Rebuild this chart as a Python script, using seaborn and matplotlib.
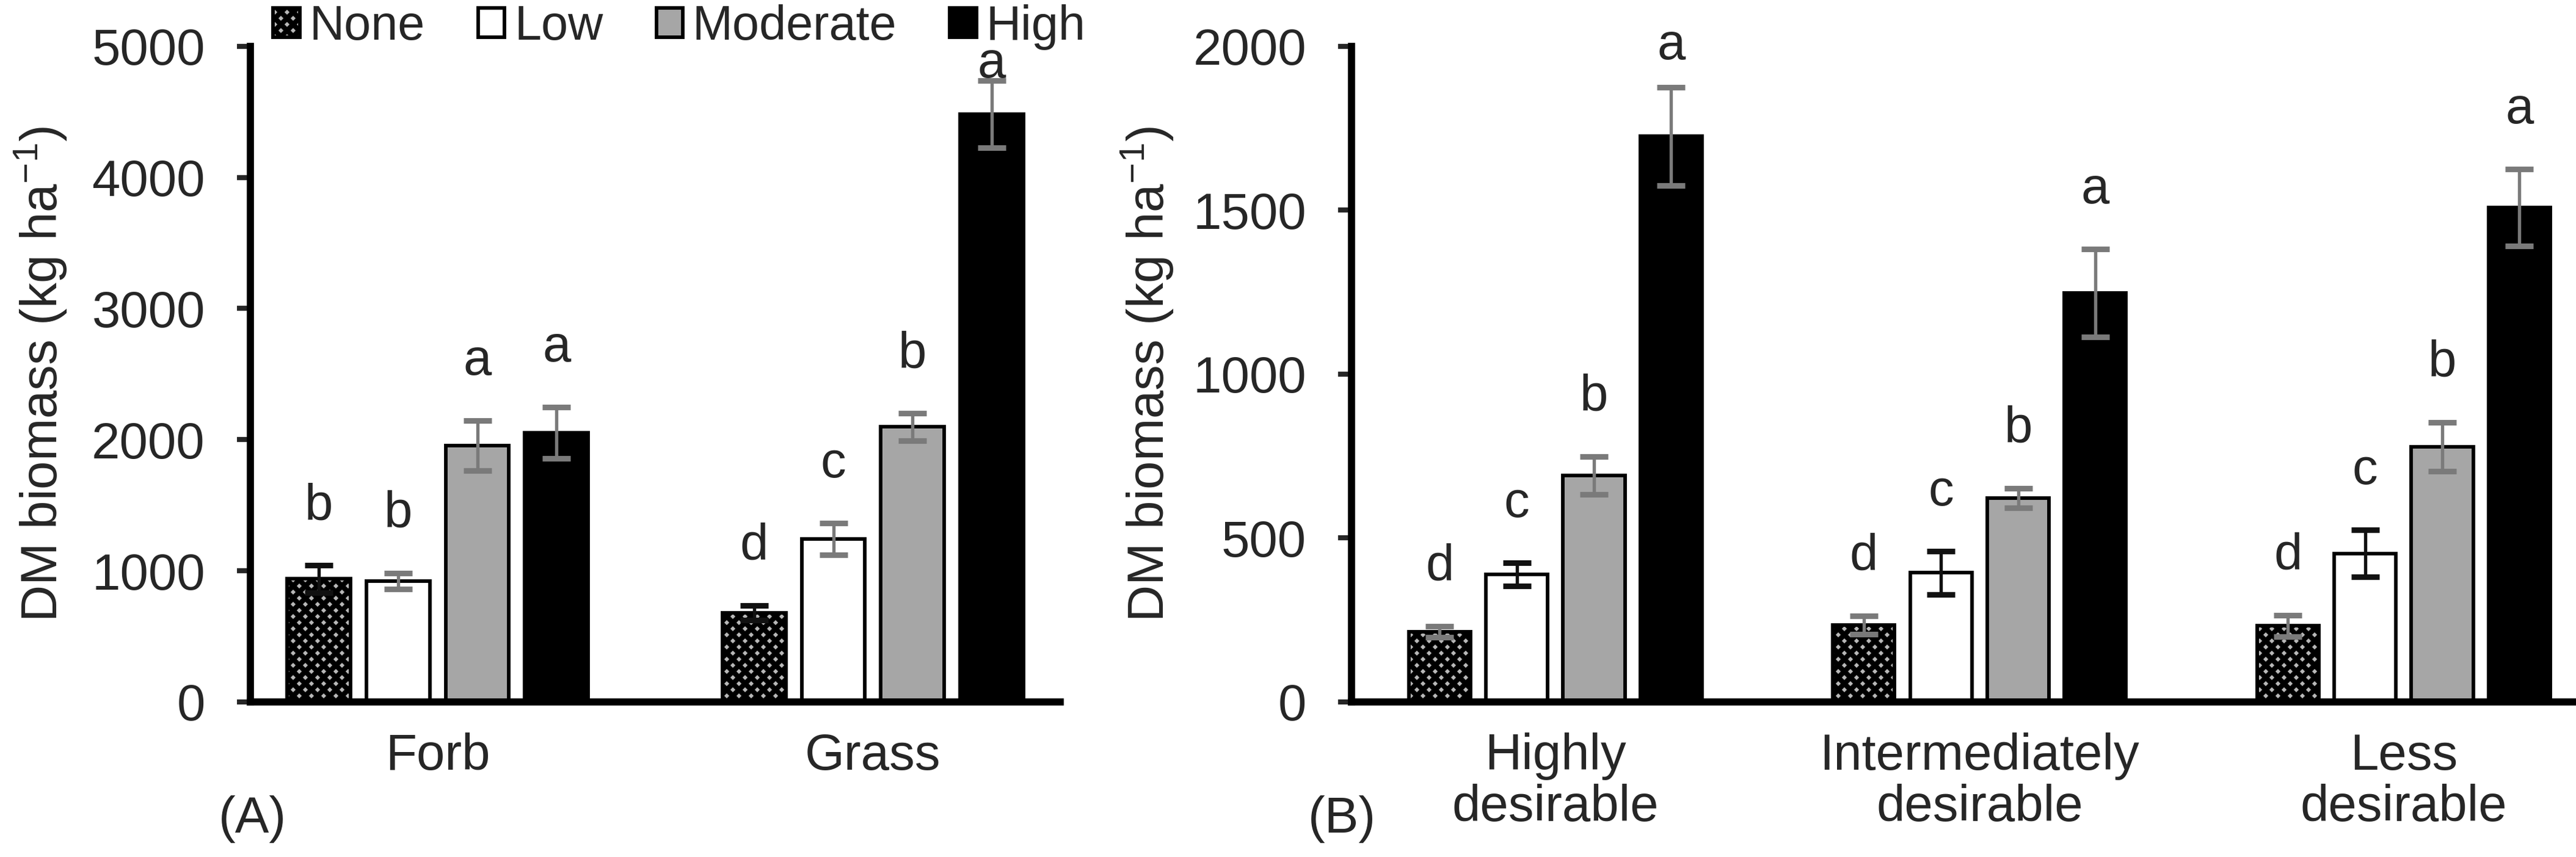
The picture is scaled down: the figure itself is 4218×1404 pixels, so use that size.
import numpy as np
import pandas as pd
import matplotlib
matplotlib.use("Agg")
import matplotlib.pyplot as plt
import seaborn as sns

# ---------------- data ----------------
levels = ["None", "Low", "Moderate", "High"]

cats_a = ["Forb", "Grass"]
a_none = [938, 679]
a_low = [921, 1241]
a_mod = [1955, 2097]
a_high = [2052, 4483]
a_none_se = [103, 55]
a_low_se = [62, 121]
a_mod_se = [190, 103]
a_high_se = [197, 255]
a_none_let = ["b", "d"]
a_low_let = ["b", "c"]
a_mod_let = ["a", "b"]
a_high_let = ["a", "a"]

cats_b = ["Highly\ndesirable", "Intermediately\ndesirable", "Less\ndesirable"]
b_none = [214, 235, 232]
b_low = [389, 394, 453]
b_mod = [691, 622, 778]
b_high = [1725, 1247, 1508]
b_none_se = [17, 28, 33]
b_low_se = [35, 66, 72]
b_mod_se = [58, 30, 75]
b_high_se = [149, 134, 117]
b_none_let = ["d", "d", "d"]
b_low_let = ["c", "c", "c"]
b_mod_let = ["b", "b", "b"]
b_high_let = ["a", "a", "a"]

ylabel = "DM biomass (kg ha$^{-1}$)"

# ---------------- style ----------------
sns.set_style("ticks")
plt.rcParams["font.family"] = ["Liberation Sans", "DejaVu Sans"]
plt.rcParams["mathtext.fontset"] = "custom"
plt.rcParams["mathtext.rm"] = "Liberation Sans"
plt.rcParams["mathtext.it"] = "Liberation Sans:italic"
plt.rcParams["mathtext.default"] = "regular"
plt.rcParams["hatch.linewidth"] = 2.0

FS = 20
palette = {"None": "#b8b8b8", "Low": "#ffffff", "Moderate": "#a6a6a6", "High": "#000000"}
GRAY = "#7a7a7a"


def make_df(cats, series):
    rows = []
    for lev, vals in zip(levels, series):
        for c, v in zip(cats, vals):
            rows.append({"cat": c, "level": lev, "val": v})
    return pd.DataFrame(rows)


def draw_panel(ax, cats, means, ses, letters, ymax, ystep, err_colors, ceil_frac):
    df = make_df(cats, means)
    sns.barplot(data=df, x="cat", y="val", hue="level", order=cats, hue_order=levels,
                palette=palette, saturation=1, edgecolor="black", linewidth=1.4,
                width=0.728, gap=0.2, errorbar=None, legend=False, ax=ax)
    bar_conts = list(ax.containers)
    for bar in bar_conts[0]:
        bar.set_hatch("xxxxx")
    pad = 0.07 * ymax
    for i, cont in enumerate(bar_conts):
        for bar, m, e, let in zip(cont, means[i], ses[i], letters[i]):
            x = bar.get_x() + bar.get_width() / 2
            ax.errorbar(x, m, yerr=e, fmt="none", ecolor=err_colors[i], elinewidth=1.3,
                        capsize=5.5, capthick=2.2, zorder=5)
            ax.text(x, min(m + e + pad, ceil_frac * ymax), let, ha="center", va="baseline",
                    fontsize=FS, zorder=6, clip_on=False)
    ax.set_ylim(0, ymax)
    ax.set_yticks(np.arange(0, ymax + 1, ystep))
    ax.set_xlabel("")
    ax.set_ylabel(ylabel, fontsize=FS)
    sns.despine(ax=ax)
    for s in ["left", "bottom"]:
        ax.spines[s].set_linewidth(2.8)
        ax.spines[s].set_color("black")
    ax.tick_params(axis="y", direction="out", length=5.3, width=2.0, pad=12.5, labelsize=FS)
    ax.tick_params(axis="x", length=0, pad=12, labelsize=FS)
    for t in ax.get_xticklabels():
        t.set_linespacing(1.1)
    return bar_conts


fig = plt.figure(figsize=(14.06, 4.68), dpi=300)
axA = fig.add_axes([0.0972, 0.181, 0.3144, 0.765])
axB = fig.add_axes([0.5247, 0.181, 0.4875, 0.765])

contsA = draw_panel(axA, cats_a, [a_none, a_low, a_mod, a_high],
                    [a_none_se, a_low_se, a_mod_se, a_high_se],
                    [a_none_let, a_low_let, a_mod_let, a_high_let],
                    5000, 1000, ["#111111", GRAY, GRAY, GRAY], 0.952)
draw_panel(axB, cats_b, [b_none, b_low, b_mod, b_high],
           [b_none_se, b_low_se, b_mod_se, b_high_se],
           [b_none_let, b_low_let, b_mod_let, b_high_let],
           2000, 500, [GRAY, "#111111", GRAY, GRAY], 0.98)

axA.yaxis.set_label_coords(-0.224, 0.5)
axB.yaxis.set_label_coords(-0.140, 0.5)

handles = [contsA[i][0] for i in range(4)]
fig.legend(handles, levels, loc="upper left", bbox_to_anchor=(0.106, 0.995), ncol=4,
           frameon=False, fontsize=19, handlelength=0.55, handleheight=0.55,
           handletextpad=0.2, columnspacing=1.1, borderpad=0, borderaxespad=0)

fig.text(358 / 4218, 1 - 1342 / 1404, "(A)", fontsize=FS, va="center", ha="left")
fig.text(2142 / 4218, 1 - 1342 / 1404, "(B)", fontsize=FS, va="center", ha="left")

fig.savefig("out.png", dpi=300)
